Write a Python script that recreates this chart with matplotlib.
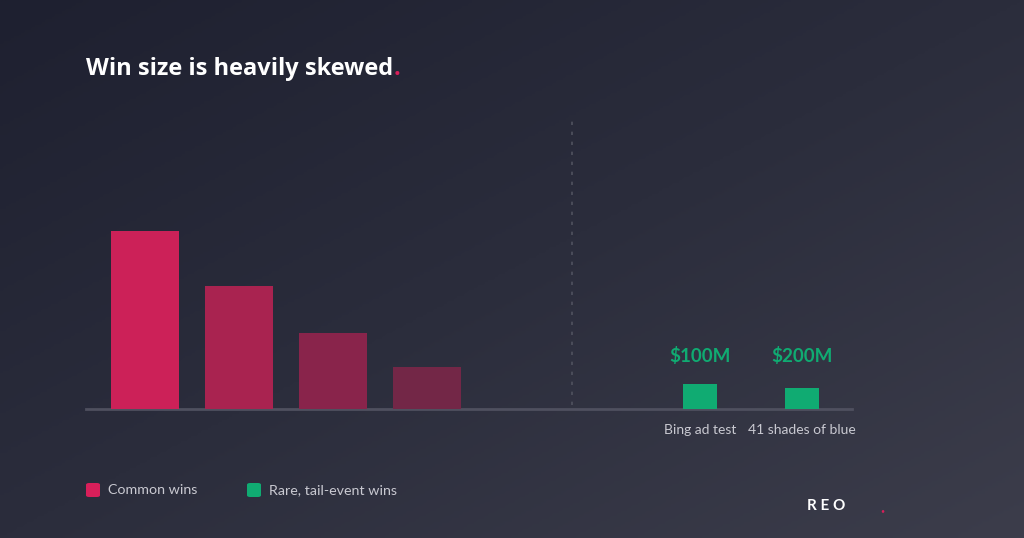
import matplotlib
matplotlib.use("Agg")
import matplotlib.pyplot as plt
import numpy as np
from matplotlib.patches import FancyBboxPatch
from matplotlib.colors import LinearSegmentedColormap

# ---- data ----
title = "Win size is heavily skewed"
common_values = [178, 123, 76, 42]          # relative heights (no labels in chart)
common_colors = ["#cc2158", "#a92350", "#89244b", "#732747"]
rare_labels = ["Bing ad test", "41 shades of blue"]
rare_values = [25, 21]
rare_value_labels = ["$100M", "$200M"]
legend_labels = ["Common wins", "Rare, tail-event wins"]

PINK = "#d81f5a"
GREEN = "#10ab72"
TEXT = "#c9c9d1"
FONT = ["Lato", "DejaVu Sans"]
TFONT = ["Open Sans", "DejaVu Sans"]

W, H = 1024, 538
fig = plt.figure(figsize=(W / 100, H / 100), dpi=100)

# background gradient (dark top-left -> lighter bottom-right)
bg = fig.add_axes([0, 0, 1, 1])
yy, xx = np.mgrid[0:1:200j, 0:1:300j]
g = 0.5 * xx + 0.5 * yy
cmap = LinearSegmentedColormap.from_list("bg", ["#1e2030", "#2b2d3c", "#3c3d4b"])
bg.imshow(g, cmap=cmap, aspect="auto", extent=[0, 1, 0, 1], origin="upper")
bg.set_xlim(0, 1); bg.set_ylim(0, 1)
bg.axis("off")

# main axes in pixel-like units
x0, x1 = 86, 852
ybase, ytop = 409, 120
ax = fig.add_axes([x0 / W, (H - ybase) / H, (x1 - x0) / W, (ybase - ytop) / H])
ax.set_xlim(x0, x1)
ax.set_ylim(0, ybase - ytop)
ax.patch.set_alpha(0)
for s in ax.spines.values():
    s.set_visible(False)
ax.set_xticks([]); ax.set_yticks([])
ax.axhline(0, color="#4f505f", lw=2, clip_on=False)

# common bars
cx = [145 + 94 * i for i in range(len(common_values))]
ax.bar(cx, common_values, width=68, color=common_colors, zorder=3)

# divider
ax.plot([572, 572], [4, ybase - ytop], color="#50525f", lw=1.2, ls=(0, (2, 4)))

# rare bars
rx = [700 + 102 * i for i in range(len(rare_values))]
ax.bar(rx, rare_values, width=34, color=GREEN, zorder=3)
for x, lab, vl in zip(rx, rare_labels, rare_value_labels):
    ax.text(x, ybase - 356, vl, ha="center", va="center", color=GREEN,
            fontsize=13.5, fontweight="bold", family=FONT)
    ax.text(x, -21, lab, ha="center", va="center", color=TEXT,
            fontsize=10, family=FONT)

# title with pink dot
t = fig.text(86 / W, 1 - 69 / H, title, ha="left", va="center", color="white",
             fontsize=17, fontweight="bold", family=TFONT)
fig.canvas.draw()
bb = t.get_window_extent(fig.canvas.get_renderer())
fig.text(bb.x1 / W + 0.0005, 1 - 69 / H, ".", ha="left", va="center", color=PINK,
         fontsize=17, fontweight="bold", family=TFONT)

# legend
for px, lab, col in zip([86, 247], legend_labels, [PINK, GREEN]):
    p = FancyBboxPatch((px / W, 1 - 497 / H), 14 / W, 14 / H,
                       boxstyle="round,pad=0,rounding_size=0.003",
                       transform=fig.transFigure, color=col, lw=0)
    fig.patches.append(p)
    fig.text((px + 22) / W, 1 - 490 / H, lab, ha="left", va="center",
             color=TEXT, fontsize=10.3, family=FONT)

# logo
fig.text(807 / W, 1 - 506 / H, "R E O", ha="left", va="center", color="white",
         fontsize=11, fontweight="bold", family=FONT)
fig.text(882 / W, 1 - 511 / H, "•", ha="center", va="center", color=PINK,
         fontsize=5, family=FONT)

fig.savefig("out.png", dpi=100)
